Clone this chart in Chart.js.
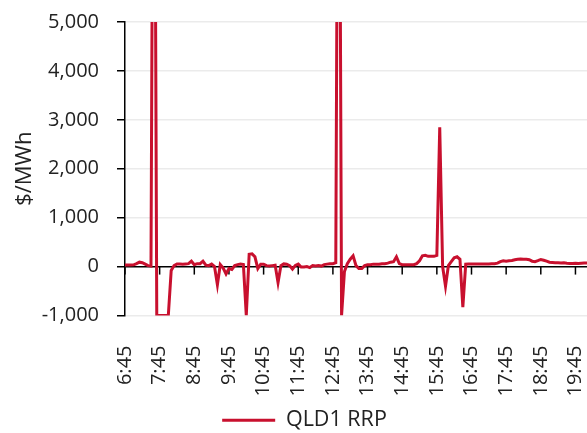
<!DOCTYPE html>
<html>
<head>
<meta charset="utf-8">
<script src="https://cdn.jsdelivr.net/npm/chart.js@4"></script>
<style>
  html, body { margin: 0; padding: 0; background: #fff; }
  #wrap { width: 587px; height: 433px; }
</style>
</head>
<body>
<div id="wrap"><canvas id="canvas"></canvas></div>
<script>
// 5-minute dispatch intervals from 6:45 onward
const startHour = 6, startMin = 45, nIntervals = 161;
const hourTicks = ['6:45', '7:45', '8:45', '9:45', '10:45', '11:45', '12:45', '13:45', '14:45', '15:45', '16:45', '17:45', '18:45', '19:45'];

const rrp = [
    30, 30, 30, 35, 60, 90, 80, 50, 20, 10,          // 6:45 - 7:30
    14000,                                           // 7:35
    -1000, -1000, -1000, -1000, -1000,               // 7:40 - 8:00
    -80, 20, 55, 55, 50,                             // 8:05 - 8:25
    55, 60, 110, 40, 60, 60, 110, 30, 20, 50,        // 8:30 - 9:15
    0, -370, 40, -30, -150, -40, -60, 20, 40,        // 9:20 - 10:00
    50, 40, -1000, 250, 260, 200, -40, 50, 50, 20,   // 10:05 - 10:50
    10, 20, 30, -330, 20, 55, 50, 20, -50, 25,       // 10:55 - 11:40
    50, -10, -10, 0, -20, 20, 10, 20, 10, 40, 50, 60, 60, 80, // 11:45 - 12:50
    14000, -1000,                                    // 12:55 - 13:00
    -100, 60, 150, 220, 20, -40, -40,                // 13:05 - 13:35
    20, 40, 40, 50, 50, 50, 60, 60, 70, 90, 100, 200, 60, 40, 40, 40, 40, // 13:40 - 15:00
    40, 60, 120, 220, 230, 210, 210, 210, 230,       // 15:05 - 15:45
    2850,                                            // 15:50
    0, -400, 20, 100, 180, 200, 150, -830, 50,       // 15:55 - 16:35
    55, 55, 55, 55, 55, 55, 55, 55, 60, 60,          // 16:40 - 17:25
    70, 100, 120, 110, 120, 125, 140, 150, 155, 150, 150, 140, 110, 100, 120, 145, 130, // 17:30 - 18:50
    110, 90, 85, 80, 80, 75, 80, 70, 65, 65, 70, 65, 70, 75, 75 // 18:55 - 20:05
];

const labels = [];
for (let i = 0; i < nIntervals; i++) {
    const m = startHour * 60 + startMin + i * 5;
    labels.push(Math.floor(m / 60) + ':' + String(m % 60).padStart(2, '0'));
}

const red = '#C8102E';
const fontFam = "'Open Sans', 'Noto Sans', sans-serif";

// little tick marks hanging below the zero line, one per hour
const zeroTicks = {
    id: 'zeroTicks',
    afterLayout(chart) {
        // nudge the legend a bit right of the canvas centre
        chart.legend.left += 22;
    },
    beforeDatasetsDraw(chart) {
        const x = chart.scales.x, y = chart.scales.y;
        const y0 = y.getPixelForValue(0);
        const c = chart.ctx;
        c.save();
        c.strokeStyle = '#000';
        c.lineWidth = 1.5;
        labels.forEach((lab, i) => {
            if (!hourTicks.includes(lab)) return;
            const px = x.getPixelForValue(i);
            c.beginPath();
            c.moveTo(px, y0);
            c.lineTo(px, y0 + 8);
            c.stroke();
        });
        c.restore();
    }
};

const ctx = document.getElementById('canvas').getContext('2d');
const myChart = new Chart(ctx, {
    type: 'line',
    data: {
        labels: labels,
        datasets: [{
            label: 'QLD1 RRP',
            data: rrp,
            borderColor: red,
            backgroundColor: red,
            borderWidth: 3,
            pointRadius: 0,
            tension: 0
        }]
    },
    options: {
        responsive: true,
        maintainAspectRatio: false,
        animation: false,
        layout: { padding: { top: 22, left: 0, right: 0, bottom: -8 } },
        plugins: {
            tooltip: { enabled: false },
            legend: {
                position: 'bottom',
                labels: {
                    usePointStyle: true,
                    pointStyle: 'line',
                    pointStyleWidth: 53,
                    color: '#222',
                    padding: 4,
                    font: { family: fontFam, size: 21.5 }
                }
            }
        },
        scales: {
            x: {
                grid: { display: false },
                border: { display: false },
                afterFit: s => { s.paddingRight = 0; s.height = 90; },
                ticks: {
                    autoSkip: false,
                    minRotation: 90,
                    maxRotation: 90,
                    padding: 22,
                    color: '#222',
                    font: { family: fontFam, size: 20 },
                    callback: (v, i) => hourTicks.includes(labels[i]) ? labels[i] : null
                }
            },
            y: {
                min: -1000,
                max: 5000,
                afterFit: s => { s.paddingTop = 0; s.paddingBottom = 0; s.width = 125; },
                ticks: {
                    stepSize: 1000,
                    padding: 18,
                    color: '#222',
                    font: { family: fontFam, size: 20 }
                },
                grid: {
                    color: c => c.tick && c.tick.value === 0 ? '#000' : '#ebebeb',
                    lineWidth: 1.5,
                    tickColor: '#000',
                    tickLength: 8
                },
                border: { color: '#000', width: 1.5 },
                title: {
                    display: true,
                    text: '$/MWh',
                    color: '#222',
                    padding: { top: 12, bottom: 0 },
                    font: { family: fontFam, size: 22 }
                }
            }
        }
    },
    plugins: [zeroTicks]
});
</script>
</body>
</html>
